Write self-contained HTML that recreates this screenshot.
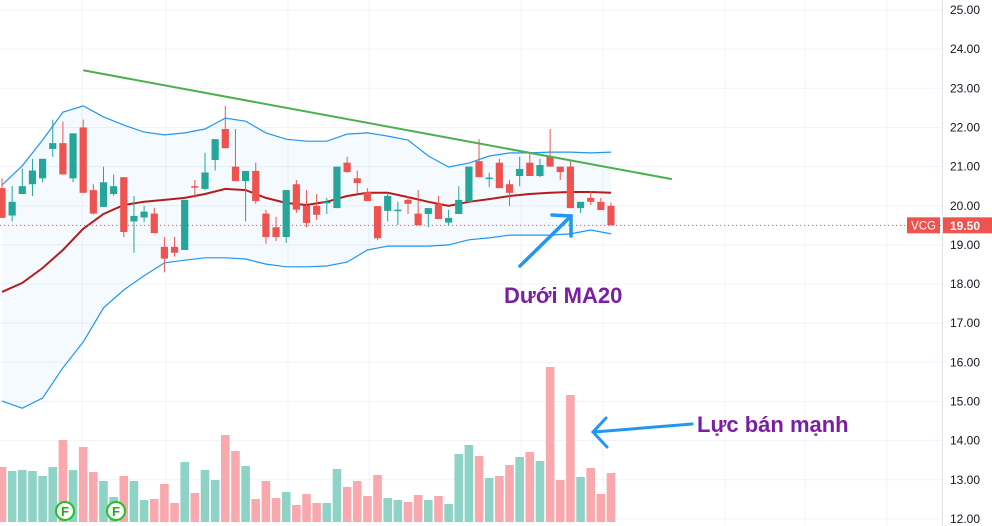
<!DOCTYPE html>
<html><head><meta charset="utf-8"><style>
html,body{margin:0;padding:0;background:#fff;}
svg{display:block;font-family:"Liberation Sans","DejaVu Sans",sans-serif;}
</style></head><body>
<svg id="chart" width="992" height="526" viewBox="0 0 992 526" xmlns="http://www.w3.org/2000/svg">
<g id="grid"></g>
<g id="bands"></g>
<g id="vol"></g>
<g id="candles"></g>
<g id="axis"></g>
<g id="ann"></g>
</svg>
<script>
const opens  = [20.45,19.75,20.3,20.55,20.7,21.45,21.6,20.7,22.0,20.4,19.97,20.3,20.73,19.6,19.7,19.8,18.95,18.95,18.87,20.5,20.43,21.17,21.96,21.0,20.63,20.89,19.8,19.45,19.2,20.55,20.0,20.0,20.06,19.94,21.1,20.7,20.35,19.99,19.87,19.88,20.15,19.8,19.79,20.05,19.57,19.79,20.1,21.14,20.71,21.1,20.55,20.76,21.1,20.76,21.25,21.0,21.0,19.94,20.2,20.1,20.0];
const highs  = [20.7,20.5,20.95,21.2,21.2,22.2,22.15,21.85,22.2,20.55,21.0,20.8,20.73,20.25,20.0,19.95,19.2,19.2,20.15,20.66,21.35,21.7,22.55,21.96,20.89,21.1,19.9,19.72,20.4,20.66,20.4,20.3,20.2,21.0,21.25,20.9,20.45,19.99,20.33,20.1,20.25,20.4,19.94,20.25,19.9,20.5,21.0,21.7,20.84,21.2,20.66,21.25,21.35,21.2,21.96,21.0,21.13,20.1,20.38,20.2,20.08];
const lows   = [19.69,19.6,20.3,20.25,20.6,21.25,20.8,20.6,20.33,19.78,19.97,20.25,19.2,18.8,19.58,19.3,18.3,18.7,18.87,20.2,20.4,20.9,21.47,20.63,19.6,20.05,19.03,19.1,19.05,19.82,19.45,19.63,19.79,19.94,20.84,20.3,20.12,19.12,19.6,19.51,19.79,19.5,19.45,19.66,19.51,19.79,20.1,20.73,20.48,20.45,19.99,20.5,20.76,20.73,21.0,20.66,19.94,19.82,20.02,19.89,19.5];
const closes = [19.69,20.1,20.5,20.9,21.2,21.6,20.8,21.85,20.33,19.8,20.6,20.5,19.33,19.74,19.85,19.3,18.65,18.8,20.15,20.48,20.85,21.7,21.47,20.63,20.89,20.12,19.2,19.2,20.4,19.9,19.56,19.77,20.1,21.0,20.86,20.58,20.12,19.17,20.25,19.9,20.05,19.5,19.94,19.66,19.69,20.15,21.0,20.73,20.72,20.45,20.33,20.94,20.76,21.04,21.0,20.86,19.94,20.1,20.1,19.89,19.5];
const volumes = [5.5,5.1,5.2,5.1,4.6,5.5,8.2,5.2,7.5,5.0,4.1,2.5,4.6,4.1,2.2,2.3,3.8,1.9,6.0,2.9,5.2,4.2,8.7,7.1,5.6,2.3,4.1,2.4,3.0,1.7,2.8,1.9,1.9,5.3,3.5,4.1,2.6,4.7,2.4,2.2,2.0,2.7,2.2,2.6,1.8,6.8,7.7,6.6,4.4,4.6,5.7,6.5,7.0,6.1,15.5,4.2,12.7,4.5,5.4,2.8,4.9];
// MA20 and Bollinger bands sampled every 2 candles (index 0,2,...,60)
const ma20  = [17.8,18.03,18.41,18.87,19.41,19.79,20.02,20.1,20.15,20.2,20.3,20.43,20.4,20.2,20.07,20.02,20.1,20.25,20.33,20.33,20.22,20.1,20.0,20.1,20.17,20.25,20.3,20.33,20.35,20.35,20.33];
const bbUp  = [20.53,21.02,21.68,22.39,22.55,22.27,22.06,21.88,21.81,21.86,21.96,22.24,22.16,21.86,21.70,21.65,21.65,21.83,21.86,21.78,21.68,21.27,20.99,21.09,21.27,21.35,21.35,21.37,21.37,21.35,21.37];
const bbLow = [15.01,14.83,15.09,15.86,16.52,17.39,17.85,18.21,18.54,18.61,18.67,18.67,18.64,18.51,18.44,18.44,18.46,18.56,18.87,18.97,18.97,18.97,19.00,19.13,19.18,19.25,19.25,19.25,19.28,19.38,19.28];
const priceTicks = ["25.00","24.00","23.00","22.00","21.00","20.00","19.00","18.00","17.00","16.00","15.00","14.00","13.00","12.00"];
const trend = [[8,23.46],[66,20.68]]; // [candle index, price]
const lastPrice = 19.50;

const NS="http://www.w3.org/2000/svg";
const X = i => 2 + 10.15*i;
const Y = p => 10 + (25-p)*39.15;
const VY = v => 522 - v*10;
function mk(tag, attrs, parent){const e=document.createElementNS(NS,tag);for(const k in attrs)e.setAttribute(k,attrs[k]);parent.appendChild(e);return e;}
const grid=document.getElementById('grid'),bands=document.getElementById('bands'),vol=document.getElementById('vol'),cg=document.getElementById('candles'),ax=document.getElementById('axis'),ann=document.getElementById('ann');

// grid
priceTicks.forEach(t=>{const y=Y(parseFloat(t));const l=mk('line',{x1:0,x2:942,y1:y,y2:y,stroke:'#f0f3fa','stroke-width':1},grid);

});
[82,166,288,369,521,603,725,805,887].forEach(x=>{const l=mk('line',{x1:x,x2:x,y1:0,y2:526,stroke:'#f0f3fa','stroke-width':1},grid);

});

// bands
const up=bbUp.map((v,k)=>[X(2*k),Y(v)]), lo=bbLow.map((v,k)=>[X(2*k),Y(v)]), ma=ma20.map((v,k)=>[X(2*k),Y(v)]);
const pts=a=>a.map(p=>p[0].toFixed(1)+','+p[1].toFixed(1)).join(' ');
const fill=mk('polygon',{points:pts(up)+' '+pts(lo.slice().reverse()),fill:'#2196f3','fill-opacity':0.05},bands);


const ul=mk('polyline',{points:pts(up),fill:'none',stroke:'#2196f3','stroke-width':1.2},bands);


const ll=mk('polyline',{points:pts(lo),fill:'none',stroke:'#2196f3','stroke-width':1.2},bands);



// volume
volumes.forEach((v,i)=>{const g=closes[i]>=opens[i];const r=mk('rect',{x:X(i)-4.3,y:VY(v),width:8.6,height:522-VY(v),fill:g?'#8fd3c7':'#f9a9ae'},vol);

});

// MA line
const mal=mk('polyline',{points:pts(ma),fill:'none',stroke:'#b71c1c','stroke-width':2},bands);



// last price line
const lp=mk('line',{x1:0,x2:942,y1:Y(lastPrice),y2:Y(lastPrice),stroke:'#ef5350','stroke-width':1,'stroke-dasharray':'1,3'},cg);



// candles
opens.forEach((o,i)=>{const c=closes[i];const col=c>=o?'#26a69a':'#ef5350';const x=X(i);
const w=mk('line',{x1:x,x2:x,y1:Y(highs[i]),y2:Y(lows[i]),stroke:col,'stroke-width':1},cg);


const top=Y(Math.max(o,c)),h=Math.max(1.5,Y(Math.min(o,c))-top);
const b=mk('rect',{x:x-3.6,y:top,width:7.2,height:h,fill:col},cg);

});

// trendline
const tl=mk('line',{x1:X(trend[0][0]),y1:Y(trend[0][1]),x2:X(trend[1][0]),y2:Y(trend[1][1]),stroke:'#4caf50','stroke-width':2},ann);



// axis
const al=mk('line',{x1:942.5,x2:942.5,y1:0,y2:526,stroke:'#e0e3eb','stroke-width':1},ax);


priceTicks.forEach(t=>{const tx=mk('text',{x:980,y:Y(parseFloat(t))+4,'text-anchor':'end','font-size':12,fill:'#131722'},ax);tx.textContent=t;

});
const ly=Y(lastPrice);
const r1=mk('rect',{x:907,y:ly-8,width:33,height:16,fill:'#ef5350'},ax);


const t1=mk('text',{x:923.5,y:ly+4,'text-anchor':'middle','font-size':11.5,fill:'#fff'},ax);t1.textContent='VCG';


const r2=mk('rect',{x:943,y:ly-8,width:49,height:16,fill:'#ef5350'},ax);


const t2=mk('text',{x:980,y:ly+4.5,'text-anchor':'end','font-size':12,'font-weight':'bold',fill:'#fff'},ax);t2.textContent=lastPrice.toFixed(2);


</script>
<svg style="position:absolute;left:0;top:0" width="992" height="526">
<g stroke="#2196f3" stroke-width="3.5" fill="none" stroke-linecap="round">
<line x1="520" y1="266" x2="571" y2="216"/><polyline points="552,215 571,216 571,236"/></g>
<g stroke="#2196f3" stroke-width="3" fill="none" stroke-linecap="round">
<line x1="692" y1="424" x2="594" y2="432"/><polyline points="606,418 593,432 607,447"/></g>
<text x="504" y="303" font-size="22" font-weight="bold" fill="#7b1fa2" font-family="Liberation Sans, DejaVu Sans, sans-serif">Dưới MA20</text>
<text x="697" y="432" font-size="22" font-weight="bold" fill="#7b1fa2" font-family="Liberation Sans, DejaVu Sans, sans-serif">Lực bán mạnh</text>
<g><circle cx="65" cy="511" r="9" fill="#fff" stroke="#22c222" stroke-width="2"/><text x="65" y="516" text-anchor="middle" font-size="13" font-weight="bold" fill="#22a822" font-family="Liberation Sans, sans-serif">F</text></g>
<g><circle cx="116" cy="511" r="9" fill="#fff" stroke="#22c222" stroke-width="2"/><text x="116" y="516" text-anchor="middle" font-size="13" font-weight="bold" fill="#22a822" font-family="Liberation Sans, sans-serif">F</text></g>
</svg>
</body></html>
